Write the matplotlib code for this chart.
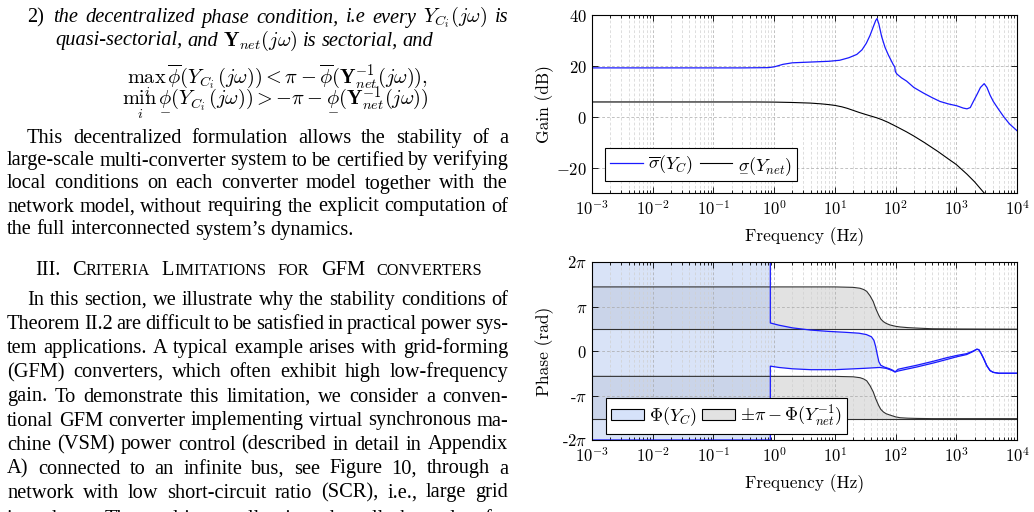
import numpy as np
import matplotlib
matplotlib.use('Agg')
import matplotlib.pyplot as plt
from matplotlib.patches import Patch
from matplotlib.lines import Line2D
from matplotlib.ticker import LogLocator, NullFormatter
from matplotlib.mathtext import MathTextParser

plt.rcParams['mathtext.fontset'] = 'cm'
plt.rcParams['axes.unicode_minus'] = False

# ---- gain data (Hz, dB) ----
f_yc = [1e-3, 0.3, 0.8, 1.0, 1.4, 2, 4, 8, 12, 17, 23, 28, 33, 38, 43, 47, 49.5, 53, 59, 67,
        76, 85, 92, 97, 99, 105, 125, 152, 200, 288, 400, 540, 750, 1020, 1300, 1500, 1700,
        1910, 2200, 2500, 2880, 3200, 3600, 4070, 5000, 6000, 7500, 10000]
g_yc = [19.2, 19.2, 19.3, 19.6, 20.6, 21.2, 21.5, 21.8, 22.2, 23.2, 24.5, 26.3, 28.9, 32.0, 35.4,
        37.8, 38.6, 36.5, 31.5, 27.3, 24.3, 22.0, 20.4, 19.6, 17.8, 16.8, 15.3, 14.0, 11.5, 9.3,
        7.5, 6.0, 5.0, 4.3, 3.4, 3.1, 3.6, 6.0, 8.8, 11.5, 13.0, 11.5, 8.5, 6.0, 2.8, 0.1, -2.8, -5.5]
f_net = [1e-3, 0.5, 1, 2, 4, 6, 8, 10, 13, 16, 20, 25, 30, 40, 50, 60, 75, 100, 150, 200, 300,
         500, 700, 1000, 1500, 2000, 2500, 2880, 3500, 5000, 10000]
g_net = [5.8, 5.8, 5.75, 5.6, 5.35, 5.05, 4.75, 4.45, 3.9, 3.3, 2.5, 1.7, 1.1, 0.2, -0.5, -1.2,
         -2.2, -3.7, -5.9, -7.6, -10.2, -13.7, -16.2, -18.8, -22.6, -25.6, -28.3, -30.0, -32.3,
         -37.0, -46.0]

# ---- phase data (Hz, units of pi) ----
f_c_up = [1e-3, 0.865, 0.865, 1.2, 2, 4, 8, 15, 25, 33, 40, 44, 47, 50, 53, 57, 65, 80, 92, 98,
          110, 150, 223, 419, 700, 1018, 1480, 1900, 2180, 2350, 2550, 2800, 3180, 3600, 4070,
          5000, 10000]
p_c_up = [2, 2, 0.63, 0.58, 0.52, 0.47, 0.44, 0.42, 0.40, 0.37, 0.32, 0.24, 0.10, -0.08, -0.24,
          -0.32, -0.36, -0.40, -0.44, -0.47, -0.41, -0.37, -0.32, -0.23, -0.15, -0.10, -0.06,
          0.00, 0.04, 0.03, -0.05, -0.16, -0.33, -0.44, -0.48, -0.50, -0.50]
f_c_lo = [1e-3, 0.865, 0.865, 1.2, 2, 4, 10, 30, 55, 70, 85, 98, 110, 150, 223, 419, 700, 1018,
          1480, 1900, 2180, 2350, 2550, 2800, 3180, 3600, 4070, 5000, 10000]
p_c_lo = [-2, -2, -0.34, -0.37, -0.40, -0.42, -0.42, -0.39, -0.37, -0.39, -0.43, -0.47, -0.45,
          -0.41, -0.36, -0.27, -0.19, -0.13, -0.08, -0.01, 0.04, 0.03, -0.05, -0.16, -0.33,
          -0.44, -0.48, -0.50, -0.50]
f_net_ph = [1e-3, 10, 20, 26, 30, 33.5, 38, 42.9, 47, 52.5, 57, 63, 70, 81, 100, 119, 160, 223,
            400, 1000, 10000]
p_band_up = [1.44, 1.44, 1.43, 1.41, 1.38, 1.34, 1.24, 1.11, 0.96, 0.81, 0.72, 0.66, 0.62, 0.585,
             0.555, 0.54, 0.525, 0.515, 0.50, 0.495, 0.49]
p_band_lo = [-0.57, -0.57, -0.58, -0.60, -0.63, -0.67, -0.78, -0.92, -1.07, -1.22, -1.31, -1.37,
             -1.41, -1.44, -1.48, -1.50, -1.51, -1.515, -1.52, -1.52, -1.52]
band_up_floor = 0.49
band_lo_floor = -1.52

W, H = 1034, 512
fig = plt.figure(figsize=(W / 100, H / 100), dpi=100)
rend = fig.canvas.get_renderer()


def fx(x):
    return x / W


def fy(y):
    return 1 - y / H


def math_ok(s):
    try:
        MathTextParser('path').parse(s)
        return True
    except Exception:
        return False


if math_ok(r'$\underline{\phi}$'):
    UL = r'\underline{%s}'
elif math_ok(r'$\underset{-}{\phi}$'):
    UL = r'\underset{-}{%s}'
else:
    UL = r'%s'

# ---------------- left text column ----------------
SERIF = 'Liberation Serif'
probe = fig.text(0, 0, 'the full interconnected system\u2019s dynamics.', family=SERIF, fontsize=10)
fs = 10 * 346 / probe.get_window_extent(rend).width
probe.remove()
space = fs * 100 / 72 * 0.25


def put(s, x, y, size=None, style='normal', ha='left'):
    return fig.text(fx(x), fy(y), s, family=SERIF, fontsize=size or fs, style=style,
                    va='baseline', ha=ha)


def line(s, y, x0, x1=None, style='normal'):
    ws = s.split(' ')
    ts = [put(w, 0, y, style=style) for w in ws]
    wd = [t.get_window_extent(rend).width for t in ts]
    gap = space if x1 is None else (x1 - x0 - sum(wd)) / (len(ws) - 1)
    x = x0
    for t, w in zip(ts, wd):
        t.set_x(fx(x))
        x += w + gap


put('2)', 27, 22.5)
line(r'the decentralized phase condition, i.e every $Y_{C_i}(j\omega)$ is', 22.5, 53, 508,
     style='italic')
line(r'quasi-sectorial, and $\mathbf{Y}_{net}(j\omega)$ is sectorial, and', 45.5, 55,
     style='italic')
put(r'$\max_i\,\overline{\phi}(Y_{C_i}(j\omega)) < \pi - \overline{\phi}(\mathbf{Y}_{net}^{-1}(j\omega)),$',
    277, 83, ha='center')
put(r'$\min_i\,' + UL % r'\phi' + r'(Y_{C_i}(j\omega)) > -\pi - ' + UL % r'\phi'
    + r'(\mathbf{Y}_{net}^{-1}(j\omega))$', 275, 105, ha='center')

para1 = ['This decentralized formulation allows the stability of a',
         'large-scale multi-converter system to be certified by verifying',
         'local conditions on each converter model together with the',
         'network model, without requiring the explicit computation of',
         'the full interconnected system\u2019s dynamics.']
base1 = [143, 165.5, 188.5, 211.5, 234.5]
for i, (s, b) in enumerate(zip(para1, base1)):
    line(s, b, 27 if i == 0 else 7, None if i == len(para1) - 1 else 508)

# small-caps heading
head = [('III.', ''), ('C', 'RITERIA'), ('L', 'IMITATIONS'), ('', 'FOR'), ('GFM', ''),
        ('', 'CONVERTERS')]
parts = []
for big, small in head:
    grp = []
    if big:
        grp.append(put(big, 0, 275))
    if small:
        grp.append(put(small, 0, 275, size=fs * 0.8))
    parts.append(grp)
widths = [[t.get_window_extent(rend).width for t in g] for g in parts]
gap = (482 - 35 - sum(sum(w) for w in widths)) / (len(parts) - 1)
x = 35
for g, w in zip(parts, widths):
    for t, wi in zip(g, w):
        t.set_x(fx(x))
        x += wi
    x += gap

para2 = ['In this section, we illustrate why the stability conditions of',
         'Theorem II.2 are difficult to be satisfied in practical power sys-',
         'tem applications. A typical example arises with grid-forming',
         '(GFM) converters, which often exhibit high low-frequency',
         'gain. To demonstrate this limitation, we consider a conven-',
         'tional GFM converter implementing virtual synchronous ma-',
         'chine (VSM) power control (described in detail in Appendix',
         'A) connected to an infinite bus, see Figure 10, through a',
         'network with low short-circuit ratio (SCR), i.e., large grid',
         'impedance. The resulting small-gain and small-phase plots for']
base2 = [305, 329, 353, 377, 401.5, 425.5, 449.5, 473.5, 497.5, 524]
for i, (s, b) in enumerate(zip(para2, base2)):
    line(s, b, 27 if i == 0 else 7, 508)

# ---------------- plots ----------------
ax1 = fig.add_axes([fx(592), fy(193), 425 / W, 178 / H])
ax2 = fig.add_axes([fx(592), fy(440), 425 / W, 178 / H])


def style(ax):
    ax.set_xscale('log')
    ax.set_xlim(1e-3, 1e4)
    ax.set_xticks([10.0 ** k for k in range(-3, 5)])
    ax.set_xticklabels([r'$10^{%d}$' % k for k in range(-3, 5)])
    ax.xaxis.set_minor_locator(LogLocator(base=10, subs=np.arange(2, 10), numticks=20))
    ax.xaxis.set_minor_formatter(NullFormatter())
    ax.tick_params(which='both', direction='in', top=True, right=True, labelsize=12, width=0.6)
    ax.tick_params(which='major', length=4)
    ax.tick_params(which='minor', length=2)
    ax.tick_params(axis='x', pad=5)
    ax.tick_params(axis='y', pad=3.6)
    ax.grid(True, which='major', ls=(0, (4, 3)), color='#a8a8a8', lw=0.5)
    ax.grid(True, which='minor', axis='x', ls=(0, (4, 3)), color='#d0d0d0', lw=0.5)
    for s in ax.spines.values():
        s.set_linewidth(0.8)
        s.set_zorder(5)
    ax.set_xlabel('Frequency (Hz)', family='cmr10', fontsize=12.5)
    ax.xaxis.set_label_coords(0.5, -0.19)
    ax.xaxis.label.set_va('top')
    ax.yaxis.set_label_coords(-0.09, 0.5)


style(ax1)
ax1.plot(f_yc, g_yc, color='#1a1aff', lw=0.9)
ax1.plot(f_net, g_net, color='black', lw=0.8)
ax1.set_ylim(-30, 40)
ax1.set_yticks([-20, 0, 20, 40])
ax1.set_yticklabels([r'$-20$', r'$0$', r'$20$', r'$40$'])
ax1.set_ylabel('Gain (dB)', family='cmr10', fontsize=12.5)
h1 = [Line2D([], [], color='#1a1aff', lw=0.9), Line2D([], [], color='black', lw=0.8)]
l1 = [r'$\overline{\sigma}(Y_C)$', r'$' + UL % r'\sigma' + r'(Y_{net})$']
leg = ax1.legend(h1, l1, loc='lower left', bbox_to_anchor=(0.03, 0.065), ncol=2, fancybox=False,
                 edgecolor='black', framealpha=1, fontsize=13, handlelength=1.8,
                 handletextpad=0.3, columnspacing=0.35, borderpad=0.3, borderaxespad=0)
leg.get_frame().set_linewidth(0.8)

style(ax2)
pi = np.pi
ax2.fill_between(f_net_ph, band_up_floor * pi, np.array(p_band_up) * pi, color='black',
                 alpha=0.115, lw=0)
ax2.fill_between(f_net_ph, band_lo_floor * pi, np.array(p_band_lo) * pi, color='black',
                 alpha=0.115, lw=0)
ax2.fill(np.r_[f_c_up, f_c_lo[::-1]], np.r_[p_c_up, p_c_lo[::-1]] * pi, color='#b4c8f0',
         alpha=0.5, lw=0)
for p in (p_band_up, p_band_lo):
    ax2.plot(f_net_ph, np.array(p) * pi, color='#303030', lw=0.8)
ax2.axhline(band_up_floor * pi, color='#303030', lw=0.8)
ax2.axhline(band_lo_floor * pi, color='#303030', lw=0.8)
ax2.plot(f_c_up, np.array(p_c_up) * pi, color='#1a1aff', lw=0.9)
ax2.plot(f_c_lo, np.array(p_c_lo) * pi, color='#1a1aff', lw=0.9)
ax2.set_ylim(-2 * pi, 2 * pi)
ax2.set_yticks([-2 * pi, -pi, 0, pi, 2 * pi])
ax2.set_yticklabels([r'-2$\pi$', r'-$\pi$', r'$0$', r'$\pi$', r'$2\pi$'], fontfamily='cmr10')
ax2.set_ylabel('Phase (rad)', family='cmr10', fontsize=12.5)
h2 = [Patch(facecolor='#d6e2fa', edgecolor='black', lw=0.8),
      Patch(facecolor='#e2e2e2', edgecolor='black', lw=0.8)]
l2 = [r'$\Phi(Y_C)$', r'$\pm\pi - \Phi(Y_{net}^{-1})$']
leg2 = ax2.legend(h2, l2, loc='lower left', bbox_to_anchor=(0.032, 0.034), ncol=2,
                  fancybox=False, edgecolor='black', framealpha=1, fontsize=13,
                  handlelength=1.8, handleheight=0.6, handletextpad=0.3, columnspacing=0.3,
                  borderpad=0.3, borderaxespad=0)
leg2.get_frame().set_linewidth(0.8)

fig.savefig('out.png', dpi=100)
